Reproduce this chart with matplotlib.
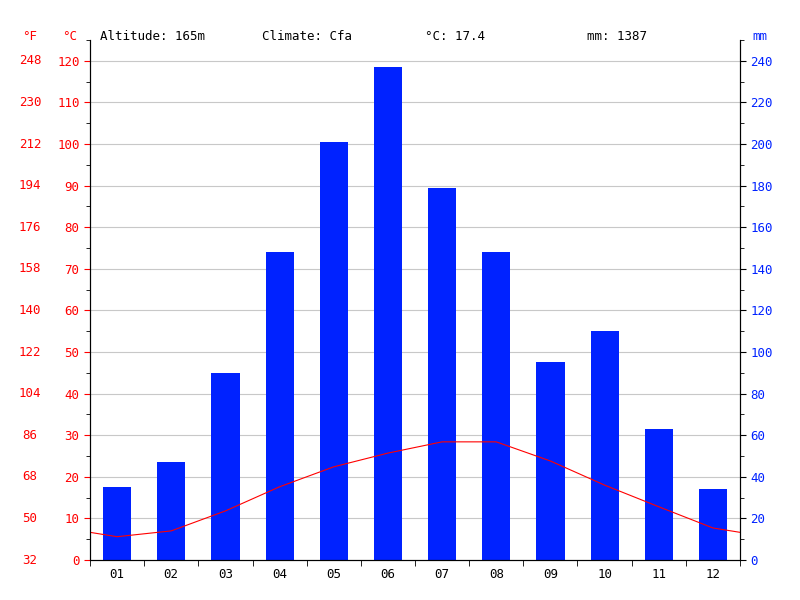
import numpy as np
import matplotlib
matplotlib.use("Agg")
import matplotlib.pyplot as plt
from matplotlib.ticker import MultipleLocator

months = ["01", "02", "03", "04", "05", "06", "07", "08", "09", "10", "11", "12"]
precip_mm = [35, 47, 90, 148, 201, 237, 179, 148, 95, 110, 63, 34]
temp_c = [5.6, 7.0, 11.8, 17.6, 22.4, 25.7, 28.4, 28.4, 23.8, 18.0, 12.8, 7.7]
header = ["Altitude: 165m", "Climate: Cfa", "°C: 17.4", "mm: 1387"]

plt.rcParams["font.family"] = ["DejaVu Sans Mono"]
plt.rcParams["font.size"] = 9

fig = plt.figure(figsize=(8, 6), dpi=100)
ax = fig.add_axes([90 / 800, 40 / 600, 650 / 800, 520 / 600])
ax2 = ax.twinx()

x = np.arange(1, 13)
ax2.bar(x, precip_mm, width=0.52, color="#0022ff", zorder=2)
ax2.set_ylim(0, 250)
ax.set_ylim(0, 125)
ax.set_xlim(0.5, 12.5)

# temperature line, wrapped at the year ends
edge = (temp_c[0] + temp_c[-1]) / 2
tx = np.concatenate([[0.5], x, [12.5]])
ty = np.concatenate([[edge], temp_c, [edge]])
ax.set_zorder(ax2.get_zorder() + 1)
ax.patch.set_visible(False)
ax.plot(tx, ty, color="red", lw=0.8)

for v in range(10, 130, 10):
    ax2.axhline(v * 2, color="#c8c8c8", lw=0.8, zorder=1)

ax.yaxis.set_major_locator(MultipleLocator(10))
ax.yaxis.set_minor_locator(MultipleLocator(5))
ax.set_yticks(range(0, 130, 10))
ax.tick_params(axis="y", colors="red", labelsize=9, length=4)
ax.tick_params(axis="y", which="minor", length=3, colors="black")
for t in ax.yaxis.get_ticklines():
    t.set_color("black")

ax2.set_yticks(range(0, 260, 20))
ax2.yaxis.set_minor_locator(MultipleLocator(10))
ax2.tick_params(axis="y", labelcolor="#0022ff", labelsize=9, length=4)
ax2.tick_params(axis="y", which="minor", length=3)

ax.set_xticks(x)
ax.set_xticklabels(months)
ax.set_xticks(np.arange(0.5, 13, 1), minor=True)
ax.tick_params(axis="x", which="major", length=0, labelsize=9, pad=6)
ax.tick_params(axis="x", which="minor", length=4)

for s in ["top"]:
    ax.spines[s].set_visible(False)
    ax2.spines[s].set_visible(False)

trans = ax.get_yaxis_transform()
for c in range(0, 130, 10):
    f = c * 9 / 5 + 32
    ax.text(-60 / 650, c, f"{f:.0f}", color="red", ha="center", va="center",
            transform=trans, fontsize=9)

fig.text(30 / 800, 1 - 36 / 600, "°F", color="red", ha="center", va="center")
fig.text(70 / 800, 1 - 36 / 600, "°C", color="red", ha="center", va="center")
fig.text(760 / 800, 1 - 36 / 600, "mm", color="#0022ff", ha="center", va="center")
for xpos, txt in zip([100, 262, 425, 587], header):
    fig.text(xpos / 800, 1 - 36 / 600, txt, ha="left", va="center")

fig.savefig("out.png", dpi=100)
